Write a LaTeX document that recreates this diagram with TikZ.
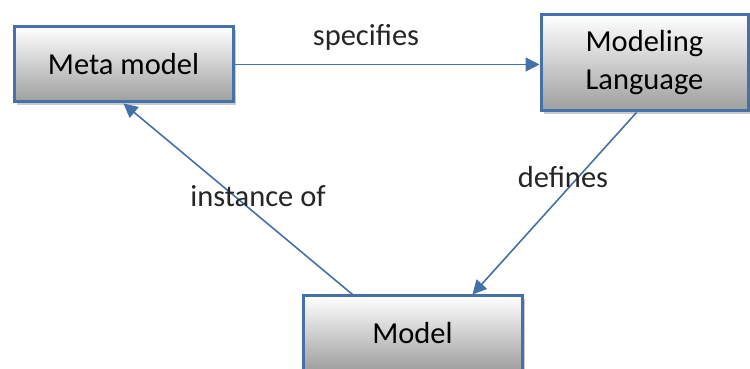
\documentclass[tikz,border=0pt]{standalone}
\usepackage{fontspec}
\setmainfont{Carlito}
\usetikzlibrary{arrows.meta,shadows,calc}
\definecolor{edgeblue}{RGB}{70,112,168}
\definecolor{boxgray}{RGB}{158,158,158}
\tikzset{
  x=1pt,y=1pt,
  box/.style={draw=edgeblue, line width=3pt, top color=white, bottom color=boxgray,
    minimum width=#1, align=center, inner sep=0pt,
    font=\fontsize{30.5}{38}\selectfont,
    drop shadow={shadow xshift=3pt, shadow yshift=-3pt, fill=black!35, opacity=0.6}},
  conn/.style={draw=edgeblue, line width=1.6pt, -{Triangle[length=14pt,width=14pt]}},
  lbl/.style={font=\fontsize{30.5}{36}\selectfont, text=black!85, inner sep=0pt}
}
\begin{document}
\begin{tikzpicture}
\useasboundingbox (0,0) rectangle (750,369);
\begin{scope}
\clip (0,0) rectangle (750,369);
\node[box=219pt, minimum height=75pt] (meta) at (123.5,304.5) {Meta model};
\node[box=207pt, minimum height=96pt] (ml) at (644.5,306) {Modeling\\Language};
\node[box=219pt, minimum height=75pt] (model) at (412.5,35.5) {Model};
\end{scope}
\draw[conn] (meta.east) -- (meta.east -| ml.west);
\draw[conn] ([xshift=-8pt]ml.south) -- ([xshift=60pt]model.north);
\draw[conn] ([xshift=-60pt]model.north) -- (meta.south);
\node[lbl] (l1) at (366,332) {specifies};
\node[lbl] (l2) at (563,192) {defines};
\node[lbl] (l3) at (258,173) {instance of};
\end{tikzpicture}
\end{document}
